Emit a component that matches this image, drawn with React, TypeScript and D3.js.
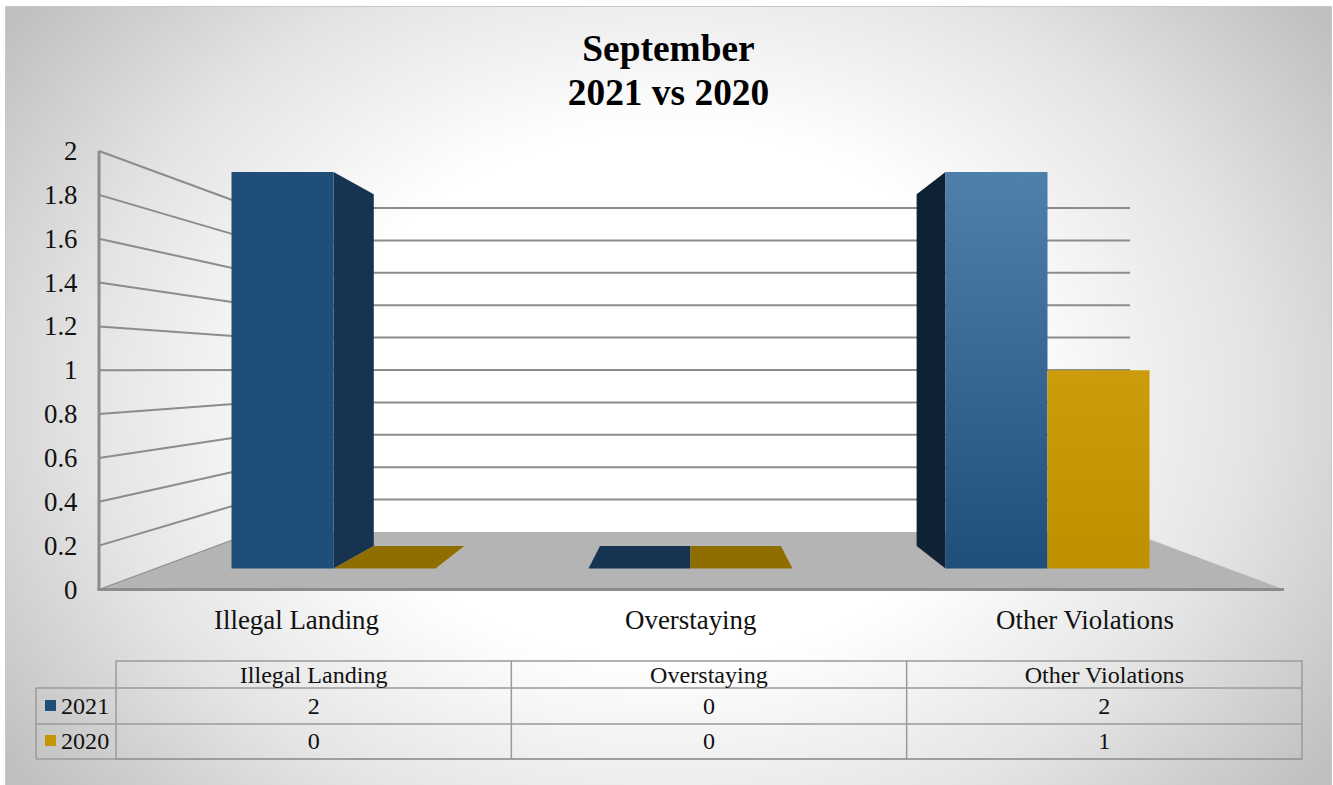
import React from "react";
import * as d3 from "d3";

const categories = ["Illegal Landing", "Overstaying", "Other Violations"];
const seriesNames = ["2021", "2020"];
const values2021 = [2, 0, 2];
const values2020 = [0, 0, 1];
const yTicks = [0, 0.2, 0.4, 0.6, 0.8, 1, 1.2, 1.4, 1.6, 1.8, 2];
const titleLines = ["September", "2021 vs 2020"];

const W = 1333, H = 785;
const SERIF = "'Liberation Serif', 'Times New Roman', serif";
const VX = 690, VY = 370, K = 0.113;

const yAxis = d3.scaleLinear().domain([0, 2]).range([589.5, 151]);
const yBack = d3.scaleLinear().domain([0, 2]).range([532, 208]);
const yBar = d3.scaleLinear().domain([0, 2]).range([568.5, 172]);
const xCat = d3.scalePoint<string>().domain(categories).range([333.5, 1047.5]);
const xLabel = d3.scalePoint<string>().domain(categories).range([296.5, 1085]);
const BAR_W = 102;
const wallL = 99, wallR = 1284, backL = 254, backR = 1130;

const tableL = 116, tableR = 1302, tableLeg = 36;
const rowY = [661, 688, 724, 759];
const tableX = d3.scaleLinear().domain([0, 3]).range([tableL, tableR]);

const dx = (x: number) => x + (VX - x) * K;
const dy = (y: number) => y + (VY - y) * K;
const pts = (p: number[][]) => p.map((a) => a.join(",")).join(" ");

const LINE = "#8c8c8c";
const colors = {
  s0: "#1f4e79", s0Flat: "#163451", s0Side: "#163351", s0SideDark: "#0e2135",
  s1: "#c49505", s1Flat: "#8f6e00",
};

function Bar({ x0, v, fill, side, flat }: { x0: number; v: number; fill: string; side?: "l" | "r"; flat: string }) {
  const x1 = x0 + BAR_W;
  const yB = yBar(0), yT = yBar(v);
  if (v === 0) {
    return <polygon points={pts([[x0, yB], [dx(x0), dy(yB)], [dx(x1), dy(yB)], [x1, yB]])} fill={flat} />;
  }
  return (
    <g>
      {side === "r" && <polygon points={pts([[x1, yT], [dx(x1), dy(yT)], [dx(x1), dy(yB)], [x1, yB]])} fill={colors.s0Side} />}
      {side === "l" && <polygon points={pts([[x0, yT], [dx(x0), dy(yT)], [dx(x0), dy(yB)], [x0, yB]])} fill={colors.s0SideDark} />}
      <rect x={x0} y={yT} width={BAR_W} height={yB - yT} fill={fill} />
    </g>
  );
}

export default function App() {
  return (
    <svg width={W} height={H} viewBox={`0 0 ${W} ${H}`} style={{ position: "absolute", left: 0, top: 0, display: "block" }} fontFamily={SERIF}>
      <defs>
        <radialGradient id="bg" gradientUnits="userSpaceOnUse" cx={0} cy={0} r={1}
          gradientTransform="translate(668 395) scale(810 630)">
          <stop offset="0" stopColor="#ffffff" />
          <stop offset="0.42" stopColor="#ffffff" />
          <stop offset="0.72" stopColor="#e4e4e4" />
          <stop offset="1" stopColor="#c0c0c0" />
        </radialGradient>
        <linearGradient id="blueGrad" x1="0" y1="0" x2="0" y2="1">
          <stop offset="0" stopColor="#4f7fab" />
          <stop offset="1" stopColor="#1f4e79" />
        </linearGradient>
        <linearGradient id="goldGrad" x1="0" y1="0" x2="0" y2="1">
          <stop offset="0" stopColor="#cc9c0c" />
          <stop offset="1" stopColor="#bf8f00" />
        </linearGradient>
      </defs>
      <rect width={W} height={H} fill="#ffffff" />
      <rect x={5.5} y={6.5} width={1326} height={779} fill="url(#bg)" stroke="#c8c8c8" strokeWidth={1} />

      <text textAnchor="middle" fontWeight="bold" fontSize={37.4} fill="#000">
        {titleLines.map((t, i) => <tspan key={t} x={668.5} y={61 + i * 44}>{t}</tspan>)}
      </text>

      {/* floor */}
      <polygon points={pts([[wallL, yAxis(0)], [wallR, yAxis(0)], [backR, yBack(0)], [backL, yBack(0)]])} fill="#b4b4b4" />
      {/* gridlines */}
      {yTicks.map((t) => (
        <g key={t} stroke={LINE} strokeWidth={t === 0 ? 1.2 : 2} fill="none">
          <line x1={wallL} y1={yAxis(t)} x2={backL} y2={yBack(t)} />
          {t > 0 && <line x1={backL} y1={yBack(t)} x2={backR} y2={yBack(t)} />}
        </g>
      ))}
      {/* axes */}
      <line x1={wallL} y1={yAxis(2)} x2={wallL} y2={yAxis(0) + 1} stroke={LINE} strokeWidth={3} />
      <line x1={wallL - 1.5} y1={yAxis(0)} x2={wallR} y2={yAxis(0)} stroke={LINE} strokeWidth={3} />

      {yTicks.map((t) => (
        <text key={t} x={77.5} y={yAxis(t) + 9} textAnchor="end" fontSize={26.8} fill="#111">{String(t)}</text>
      ))}

      {/* bars */}
      {categories.map((c, i) => {
        const cx = xCat(c)!;
        return (
          <g key={c}>
            <Bar x0={cx - BAR_W} v={values2021[i]} flat={colors.s0Flat}
              fill={i === 2 ? "url(#blueGrad)" : colors.s0} side={i === 0 ? "r" : "l"} />
            <Bar x0={cx} v={values2020[i]} flat={colors.s1Flat} fill="url(#goldGrad)" />
          </g>
        );
      })}

      {categories.map((c) => (
        <text key={c} x={xLabel(c)!} y={629} textAnchor="middle" fontSize={26.9} fill="#111">{c}</text>
      ))}

      {/* data table */}
      <g stroke="#9a9a9a" strokeWidth={1.5} fill="none">
        <rect x={tableL} y={rowY[0]} width={tableR - tableL} height={rowY[3] - rowY[0]} />
        <line x1={tableLeg} x2={tableR} y1={rowY[1]} y2={rowY[1]} />
        <line x1={tableLeg} x2={tableR} y1={rowY[2]} y2={rowY[2]} />
        <line x1={tableLeg} x2={tableR} y1={rowY[3]} y2={rowY[3]} />
        <line x1={tableLeg} x2={tableLeg} y1={rowY[1]} y2={rowY[3]} />
        {[1, 2].map((k) => <line key={k} x1={tableX(k)} x2={tableX(k)} y1={rowY[0]} y2={rowY[3]} />)}
      </g>
      {categories.map((c, i) => (
        <g key={c} textAnchor="middle" fontSize={24.1} fill="#111">
          <text x={tableX(i + 0.5)} y={683}>{c}</text>
          <text x={tableX(i + 0.5)} y={714}>{values2021[i]}</text>
          <text x={tableX(i + 0.5)} y={749}>{values2020[i]}</text>
        </g>
      ))}
      {seriesNames.map((s, i) => (
        <g key={s}>
          <rect x={45} y={i === 0 ? 700 : 735} width={11} height={11} fill={i === 0 ? colors.s0 : "#c49505"} />
          <text x={61} y={i === 0 ? 714 : 749} fontSize={24.1} fill="#111">{s}</text>
        </g>
      ))}
    </svg>
  );
}
